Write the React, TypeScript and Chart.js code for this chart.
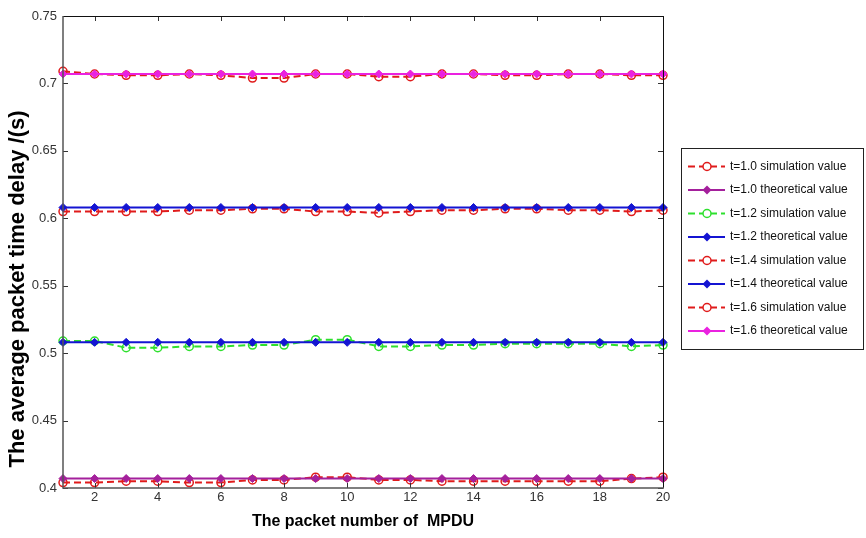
import React, { useEffect, useRef } from 'react';
import { Chart, registerables } from 'chart.js';

Chart.register(...registerables);

const packetNumbers = [1, 2, 3, 4, 5, 6, 7, 8, 9, 10, 11, 12, 13, 14, 15, 16, 17, 18, 19, 20];
const xTicks = [2, 4, 6, 8, 10, 12, 14, 16, 18, 20];
const yTicks = [0.4, 0.45, 0.5, 0.55, 0.6, 0.65, 0.7, 0.75];

const sim10 = [0.404, 0.404, 0.405, 0.405, 0.404, 0.404, 0.406, 0.406, 0.408, 0.408, 0.406, 0.406, 0.405, 0.405, 0.405, 0.405, 0.405, 0.405, 0.407, 0.408];
const theo10 = [0.407, 0.407, 0.407, 0.407, 0.407, 0.407, 0.407, 0.407, 0.407, 0.407, 0.407, 0.407, 0.407, 0.407, 0.407, 0.407, 0.407, 0.407, 0.407, 0.407];
const sim12 = [0.509, 0.509, 0.504, 0.504, 0.505, 0.505, 0.506, 0.506, 0.510, 0.510, 0.505, 0.505, 0.506, 0.506, 0.507, 0.507, 0.507, 0.507, 0.505, 0.506];
const theo12 = [0.508, 0.508, 0.508, 0.508, 0.508, 0.508, 0.508, 0.508, 0.508, 0.508, 0.508, 0.508, 0.508, 0.508, 0.508, 0.508, 0.508, 0.508, 0.508, 0.508];
const sim14 = [0.605, 0.605, 0.605, 0.605, 0.606, 0.606, 0.607, 0.607, 0.605, 0.605, 0.604, 0.605, 0.606, 0.606, 0.607, 0.607, 0.606, 0.606, 0.605, 0.606];
const theo14 = [0.608, 0.608, 0.608, 0.608, 0.608, 0.608, 0.608, 0.608, 0.608, 0.608, 0.608, 0.608, 0.608, 0.608, 0.608, 0.608, 0.608, 0.608, 0.608, 0.608];
const sim16 = [0.709, 0.707, 0.706, 0.706, 0.707, 0.706, 0.704, 0.704, 0.707, 0.707, 0.705, 0.705, 0.707, 0.707, 0.706, 0.706, 0.707, 0.707, 0.706, 0.706];
const theo16 = [0.707, 0.707, 0.707, 0.707, 0.707, 0.707, 0.707, 0.707, 0.707, 0.707, 0.707, 0.707, 0.707, 0.707, 0.707, 0.707, 0.707, 0.707, 0.707, 0.707];

const seriesLabels = [
  't=1.0 simulation value',
  't=1.0 theoretical value',
  't=1.2 simulation value',
  't=1.2 theoretical value',
  't=1.4 simulation value',
  't=1.4 theoretical value',
  't=1.6 simulation value',
  't=1.6 theoretical value',
];

const xTitle = 'The packet number of  MPDU';
const yTitle = 'The average packet time delay /(s)';

const FONT = '"Liberation Sans", Arial, sans-serif';

const RED = '#e01b1b';
const GREEN = '#2ee02e';
const BLUE = '#1414d2';
const PURPLE = '#a4209c';
const MAGENTA = '#ea22e0';

function simSet(label: string, values: number[], color: string) {
  return {
    label,
    data: packetNumbers.map((x, i) => ({ x, y: values[i] })),
    borderColor: color,
    backgroundColor: 'rgba(0,0,0,0)',
    borderWidth: 2,
    borderDash: [7, 4],
    pointStyle: 'circle',
    pointRadius: 4,
    pointBorderWidth: 1.5,
    pointBorderColor: color,
    pointBackgroundColor: 'rgba(0,0,0,0)',
    tension: 0,
    clip: false,
    order: 1,
  };
}

function theoSet(label: string, values: number[], color: string) {
  return {
    label,
    data: packetNumbers.map((x, i) => ({ x, y: values[i] })),
    borderColor: color,
    backgroundColor: color,
    borderWidth: 2,
    pointStyle: 'rectRot',
    pointRadius: 4,
    pointBorderWidth: 1,
    pointBorderColor: color,
    pointBackgroundColor: color,
    tension: 0,
    clip: false,
    order: 0,
  };
}

const framePlugin = {
  id: 'matlabFrame',
  afterDraw(chart: any) {
    const ctx = chart.ctx;
    const { left, right, top, bottom } = chart.chartArea;
    const xs = chart.scales.x;
    const ys = chart.scales.y;
    ctx.save();
    ctx.setLineDash([]);
    ctx.strokeStyle = '#333';
    ctx.lineWidth = 1;
    const tl = 5;
    xTicks.forEach((v) => {
      const px = Math.round(xs.getPixelForValue(v)) + 0.5;
      ctx.beginPath();
      ctx.moveTo(px, bottom);
      ctx.lineTo(px, bottom - tl);
      ctx.moveTo(px, top);
      ctx.lineTo(px, top + tl);
      ctx.stroke();
    });
    yTicks.forEach((v) => {
      const py = Math.round(ys.getPixelForValue(v)) + 0.5;
      ctx.beginPath();
      ctx.moveTo(left, py);
      ctx.lineTo(left + tl, py);
      ctx.moveTo(right, py);
      ctx.lineTo(right - tl, py);
      ctx.stroke();
    });
    ctx.strokeStyle = '#111';
    ctx.lineWidth = 1;
    ctx.beginPath();
    ctx.moveTo(left, top + 0.5);
    ctx.lineTo(right + 0.5, top + 0.5);
    ctx.lineTo(right + 0.5, bottom);
    ctx.stroke();
    ctx.strokeStyle = '#555';
    ctx.lineWidth = 1.5;
    ctx.beginPath();
    ctx.moveTo(left, top);
    ctx.lineTo(left, bottom);
    ctx.lineTo(right + 1, bottom);
    ctx.stroke();

    // y title (sits a little below the axis centre, as in the original)
    ctx.save();
    ctx.translate(18, 289);
    ctx.rotate(-Math.PI / 2);
    ctx.fillStyle = '#000';
    ctx.font = 'bold 22px ' + FONT;
    ctx.textAlign = 'center';
    ctx.textBaseline = 'middle';
    ctx.fillText(yTitle, 0, 0);
    ctx.restore();

    // legend box
    const lx = 681;
    const ly = 148;
    const lw = 182;
    const lh = 201;
    ctx.fillStyle = '#fff';
    ctx.fillRect(lx, ly, lw, lh);
    ctx.strokeStyle = '#222';
    ctx.lineWidth = 1;
    ctx.strokeRect(lx + 0.5, ly + 0.5, lw, lh);
    const dsList = chart.data.datasets;
    dsList.forEach((ds: any, i: number) => {
      const cy = ly + 18.5 + i * 23.5;
      ctx.save();
      ctx.strokeStyle = ds.borderColor;
      ctx.lineWidth = 2;
      ctx.setLineDash(ds.borderDash || []);
      ctx.beginPath();
      ctx.moveTo(lx + 7, cy);
      ctx.lineTo(lx + 44, cy);
      ctx.stroke();
      ctx.setLineDash([]);
      const mx = lx + 26;
      if (ds.pointStyle === 'circle') {
        ctx.fillStyle = '#fff';
        ctx.lineWidth = 1.5;
        ctx.beginPath();
        ctx.arc(mx, cy, 4, 0, Math.PI * 2);
        ctx.fill();
        ctx.stroke();
      } else {
        ctx.fillStyle = ds.borderColor;
        ctx.beginPath();
        ctx.moveTo(mx, cy - 4.5);
        ctx.lineTo(mx + 4.5, cy);
        ctx.lineTo(mx, cy + 4.5);
        ctx.lineTo(mx - 4.5, cy);
        ctx.closePath();
        ctx.fill();
      }
      ctx.restore();
      ctx.fillStyle = '#111';
      ctx.font = '12px ' + FONT;
      ctx.textBaseline = 'middle';
      ctx.textAlign = 'left';
      ctx.fillText(ds.label, lx + 49, cy);
    });
    ctx.restore();
  },
};

export default function App() {
  const ref = useRef<HTMLCanvasElement>(null);
  useEffect(() => {
    document.body.style.margin = '0';
    const canvas = ref.current;
    if (!canvas) return;
    const chart = new Chart(canvas, {
      type: 'line',
      data: {
        datasets: [
          simSet(seriesLabels[0], sim10, RED),
          theoSet(seriesLabels[1], theo10, PURPLE),
          simSet(seriesLabels[2], sim12, GREEN),
          theoSet(seriesLabels[3], theo12, BLUE),
          simSet(seriesLabels[4], sim14, RED),
          theoSet(seriesLabels[5], theo14, BLUE),
          simSet(seriesLabels[6], sim16, RED),
          theoSet(seriesLabels[7], theo16, MAGENTA),
        ] as any,
      },
      options: {
        animation: false,
        responsive: false,
        maintainAspectRatio: false,
        devicePixelRatio: 1,
        layout: { padding: { left: 0, top: 16, right: 203, bottom: 0 } },
        plugins: { legend: { display: false }, tooltip: { enabled: false } },
        scales: {
          x: {
            type: 'linear',
            min: 1,
            max: 20,
            grid: { display: false, drawTicks: false },
            border: { display: false },
            afterBuildTicks: (scale: any) => {
              scale.ticks = xTicks.map((v) => ({ value: v }));
            },
            afterFit: (scale: any) => {
              scale.height = 50;
            },
            ticks: {
              padding: 2,
              color: '#333',
              font: { family: FONT, size: 13 },
              maxRotation: 0,
              autoSkip: false,
              callback: (v: any) => String(v),
            },
            title: {
              display: true,
              text: xTitle,
              color: '#000',
              font: { family: FONT, size: 16, weight: 'bold' },
              padding: { top: 0, bottom: 7 },
            },
          },
          y: {
            type: 'linear',
            min: 0.4,
            max: 0.75,
            grid: { display: false, drawTicks: false },
            border: { display: false },
            afterBuildTicks: (scale: any) => {
              scale.ticks = yTicks.map((v) => ({ value: v }));
            },
            afterFit: (scale: any) => {
              scale.width = 63;
            },
            ticks: {
              padding: 6,
              color: '#333',
              font: { family: FONT, size: 13 },
              autoSkip: false,
              callback: (v: any) => String(v),
            },
            title: { display: false },
          },
        },
      } as any,
      plugins: [framePlugin],
    });
    return () => chart.destroy();
  }, []);
  return (
    <div style={{ width: 866, height: 538 }}>
      <canvas ref={ref} width={866} height={538} style={{ display: 'block' }} />
    </div>
  );
}
